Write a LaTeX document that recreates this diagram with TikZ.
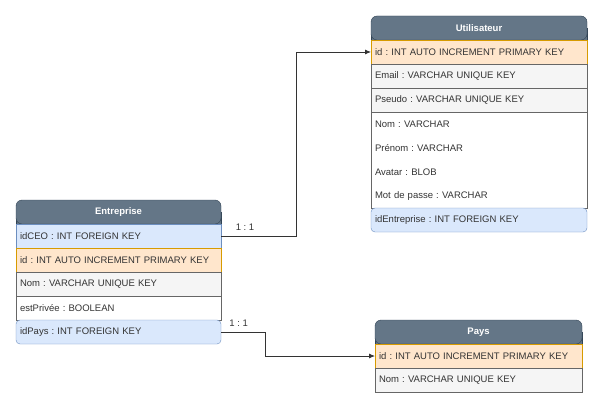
\documentclass[tikz,border=0pt]{standalone}
\usepackage{fontspec}
\setmainfont{Liberation Sans}
\frenchspacing
\usetikzlibrary{positioning,arrows.meta,backgrounds}
\definecolor{hdrfill}{HTML}{647687}
\definecolor{hdrline}{HTML}{314354}
\definecolor{pkfill}{HTML}{FFE6CC}
\definecolor{pkline}{HTML}{D79B00}
\definecolor{ukfill}{HTML}{F5F5F5}
\definecolor{ukline}{HTML}{666666}
\definecolor{fkfill}{HTML}{DAE8FC}
\definecolor{fkline}{HTML}{6C8EBF}
\definecolor{txt}{HTML}{333333}
\tikzset{
  row/.style={rectangle, minimum height=24pt, inner xsep=4pt, inner ysep=0pt,
    outer sep=0pt, align=left, text=txt, font=\fontsize{9.5}{11}\selectfont},
  hdr/.style={row, anchor=north west, fill=hdrfill, draw=hdrline, rounded corners=6pt,
    text=white, align=center, font=\bfseries\fontsize{9.5}{11}\selectfont},
  hdrfoot/.style={fill=hdrfill, draw=hdrline},
  pkrow/.style={row, fill=pkfill, draw=pkline},
  ukrow/.style={row, fill=ukfill, draw=ukline},
  fkrow/.style={row, fill=fkfill, draw=fkline},
  fklast/.style={fkrow, rounded corners=4pt},
  plain/.style={row},
  link/.style={draw=txt, line width=0.8pt, -{Latex[length=6pt,width=5pt]}},
  lbl/.style={text=txt, font=\fontsize{9.5}{11}\selectfont},
}
\begin{document}
\begin{tikzpicture}[x=1pt,y=-1pt]
\useasboundingbox (0,0) rectangle (604,409);

% Utilisateur
\begin{scope}[every node/.append style={text width=208pt}]
\node[hdr] (u) at (371,16) {Utilisateur};
\node[pkrow, below=0pt of u] (uId) {id : INT AUTO INCREMENT PRIMARY KEY};
\node[ukrow, below=0pt of uId] (uMail) {Email : VARCHAR UNIQUE KEY};
\node[ukrow, below=0pt of uMail] (uPseudo) {Pseudo : VARCHAR UNIQUE KEY};
\node[plain, below=0pt of uPseudo] (uNom) {Nom : VARCHAR};
\node[plain, below=0pt of uNom] (uPrenom) {Prénom : VARCHAR};
\node[plain, below=0pt of uPrenom] (uAvatar) {Avatar : BLOB};
\node[plain, below=0pt of uAvatar] (uMdp) {Mot de passe : VARCHAR};
\draw[ukline] (uNom.north west) rectangle (uMdp.south east);
\node[fklast, below=0pt of uMdp] (uEnt) {idEntreprise : INT FOREIGN KEY};
\end{scope}

% Entreprise
\begin{scope}[every node/.append style={text width=197pt}]
\node[hdr] (e) at (16,200) {Entreprise};
\node[fkrow, below=0pt of e] (eCEO) {idCEO : INT FOREIGN KEY};
\node[pkrow, below=0pt of eCEO] (eId) {id : INT AUTO INCREMENT PRIMARY KEY};
\node[ukrow, below=0pt of eId] (eNom) {Nom : VARCHAR UNIQUE KEY};
\node[plain, below=0pt of eNom] (ePriv) {estPrivée : BOOLEAN};
\draw[ukline] (ePriv.north west) rectangle (ePriv.south east);
\node[fklast, below=0pt of ePriv] (ePays) {idPays : INT FOREIGN KEY};
\end{scope}

% Pays
\begin{scope}[every node/.append style={text width=199pt}]
\node[hdr] (p) at (375,320) {Pays};
\node[pkrow, below=0pt of p] (pId) {id : INT AUTO INCREMENT PRIMARY KEY};
\node[ukrow, below=0pt of pId] (pNom) {Nom : VARCHAR UNIQUE KEY};
\end{scope}

% square lower corners of the headers
\begin{scope}[on background layer]
\foreach \h in {u,e,p}
  \draw[hdrfoot] (\h.west) rectangle (\h.south east);
\end{scope}

% relations
\draw[link] (eCEO.east) -- ++(75,0) node[lbl, pos=0.32, above=2pt] (l1) {1 : 1} |- (uId.west);
\draw[link] (ePays.east) -- ++(44,0) node[lbl, pos=0.4, above=2pt] (l2) {1 : 1} |- (pId.west);
\end{tikzpicture}
\end{document}
